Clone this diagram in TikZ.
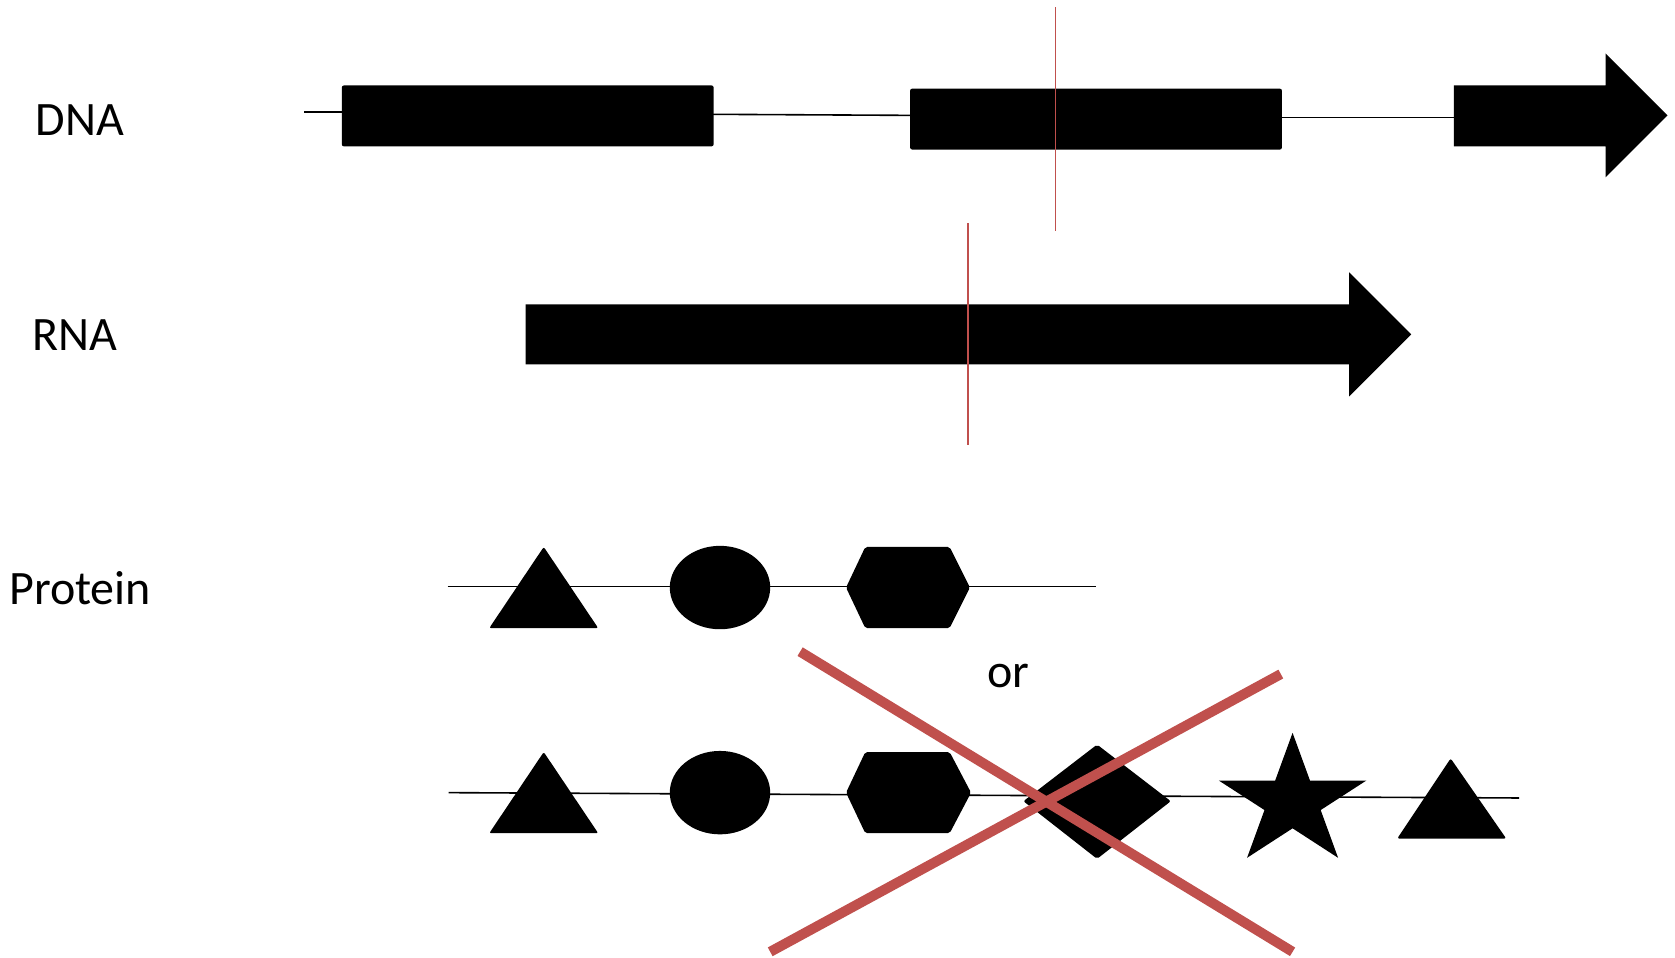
\documentclass[tikz,border=0pt]{standalone}
\usepackage{fontspec}
\setmainfont{Carlito}
\definecolor{xred}{HTML}{C0504D}
\begin{document}
\begin{tikzpicture}[x=1.0682pt,y=-1.0682pt,
  lbl/.style={font=\fontsize{48}{52}\selectfont, inner sep=0pt},
  thin line/.style={line width=1.6pt, black},
  blk/.style={fill=black, rounded corners=2pt},
  redthin/.style={line width=1.8pt, xred},
  redthick/.style={line width=10pt, xred}]
\useasboundingbox (0,0) rectangle (1568,896);
% labels
\node[lbl] (dna) at (75,112) {DNA};
\node[lbl] (rna) at (70,314) {RNA};
\node[lbl] (prot) at (75,551) {Protein};
\node[lbl] (or) at (944,633) {or};
% DNA
\draw[thin line] (285,105) -- (322,105);
\draw[thin line] (666,107) -- (854,108);
\draw[thin line] (1198,110) -- (1363,110);
\fill[blk] (320,80) rectangle (668,137);
\fill[blk] (852,83) rectangle (1200,140);
\fill (1361,80) -- (1503,80) -- (1503,50) -- (1561,108) -- (1503,166) -- (1503,137) -- (1361,137) -- cycle;
\draw[redthin] (988,7) -- (988,216);
% RNA
\fill (492,285) -- (1263,285) -- (1263,255) -- (1321,313) -- (1263,371) -- (1263,341) -- (492,341) -- cycle;
\draw[redthin] (906,209) -- (906,417);
% Protein 1
\draw[thin line] (419,549) -- (1026,549);
\fill[blk] (509,512) -- (560,588) -- (458,588) -- cycle;
\fill (674,550) ellipse [x radius=50.2pt, y radius=41.7pt];
\fill[blk] (792,550) -- (810,512) -- (889,512) -- (908,550) -- (889,588) -- (810,588) -- cycle;
% Protein 2
\draw[thin line] (420,742) -- (1422,747);
\fill[blk] (509,704) -- (560,780) -- (458,780) -- cycle;
\fill (674,742) ellipse [x radius=50.2pt, y radius=41.7pt];
\fill[blk] (792,742) -- (810,704) -- (889,704) -- (909,742) -- (889,780) -- (810,780) -- cycle;
\fill[blk] (1027,697) -- (1096,750) -- (1027,804) -- (958,750) -- cycle;
\fill (1210,686) -- (1226.3,730.7) -- (1279,730.7) -- (1236.3,758.3) -- (1252.6,803)
  -- (1210,775.4) -- (1167.4,803) -- (1183.7,758.3) -- (1141,730.7) -- (1193.7,730.7) -- cycle;
\fill[blk] (1358,710) -- (1410,785) -- (1308,785) -- cycle;
% red X
\draw[redthick] (749,610) -- (1210,891);
\draw[redthick] (1199,631) -- (721,891);
\end{tikzpicture}
\end{document}
